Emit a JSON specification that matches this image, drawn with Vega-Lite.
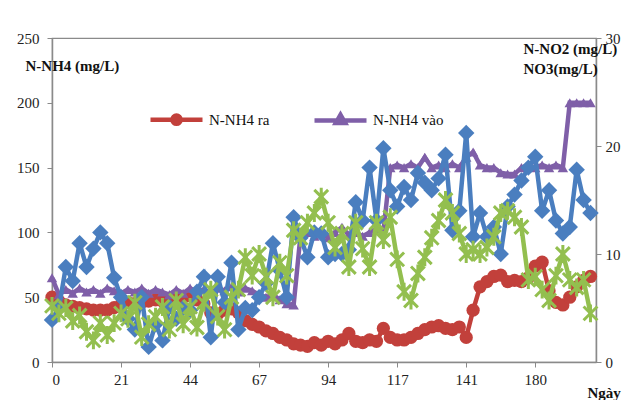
{
  "$schema": "https://vega.github.io/schema/vega-lite/v6.json",
  "autosize": "none",
  "width": 544,
  "height": 324,
  "padding": {"left": 52, "top": 38, "right": 29, "bottom": 38},
  "background": "white",
  "config": {
    "view": {"stroke": "#8a8a8a", "strokeWidth": 1.2},
    "axis": {
      "labelFont": "Liberation Serif", "labelFontSize": 15, "labelColor": "#222",
      "titleFont": "Liberation Serif", "titleFontSize": 15, "titleFontWeight": "bold", "titleColor": "#111",
      "domainColor": "#8a8a8a", "domainWidth": 1.5, "tickColor": "#8a8a8a", "tickSize": 5, "grid": false
    }
  },
  "data": {"values": [
    {"i":0,"ra":50,"vao":65,"no2":3.9,"no3":5.2},
    {"i":1,"ra":47,"vao":52,"no2":5.0,"no3":4.5},
    {"i":2,"ra":44,"vao":56,"no2":8.8,"no3":5.0},
    {"i":3,"ra":43,"vao":53,"no2":7.5,"no3":3.8},
    {"i":4,"ra":42,"vao":57,"no2":11.0,"no3":4.3},
    {"i":5,"ra":41,"vao":54,"no2":8.8,"no3":2.8},
    {"i":6,"ra":40,"vao":56,"no2":10.5,"no3":2.0},
    {"i":7,"ra":40,"vao":53,"no2":12.0,"no3":3.6},
    {"i":8,"ra":40,"vao":57,"no2":11.0,"no3":2.5},
    {"i":9,"ra":42,"vao":55,"no2":7.8,"no3":3.6},
    {"i":10,"ra":44,"vao":53,"no2":6.0,"no3":4.5},
    {"i":11,"ra":46,"vao":56,"no2":4.0,"no3":4.0},
    {"i":12,"ra":45,"vao":54,"no2":3.0,"no3":5.5},
    {"i":13,"ra":46,"vao":57,"no2":6.0,"no3":2.3},
    {"i":14,"ra":47,"vao":53,"no2":1.4,"no3":3.5},
    {"i":15,"ra":48,"vao":56,"no2":3.5,"no3":4.2},
    {"i":16,"ra":47,"vao":54,"no2":2.0,"no3":5.1},
    {"i":17,"ra":48,"vao":52,"no2":5.1,"no3":3.0},
    {"i":18,"ra":49,"vao":56,"no2":4.0,"no3":5.7},
    {"i":19,"ra":50,"vao":53,"no2":5.0,"no3":3.5},
    {"i":20,"ra":51,"vao":57,"no2":4.8,"no3":5.1},
    {"i":21,"ra":48,"vao":54,"no2":6.5,"no3":3.2},
    {"i":22,"ra":45,"vao":56,"no2":7.9,"no3":5.5},
    {"i":23,"ra":38,"vao":53,"no2":2.3,"no3":6.7},
    {"i":24,"ra":37,"vao":57,"no2":7.9,"no3":4.2},
    {"i":25,"ra":40,"vao":55,"no2":5.5,"no3":3.0},
    {"i":26,"ra":41,"vao":58,"no2":9.2,"no3":6.0},
    {"i":27,"ra":38,"vao":54,"no2":3.0,"no3":6.7},
    {"i":28,"ra":32,"vao":57,"no2":5.0,"no3":9.7},
    {"i":29,"ra":29,"vao":55,"no2":4.8,"no3":8.0},
    {"i":30,"ra":27,"vao":52,"no2":6.0,"no3":10.0},
    {"i":31,"ra":24,"vao":50,"no2":7.3,"no3":7.9},
    {"i":32,"ra":22,"vao":52,"no2":11.0,"no3":6.0},
    {"i":33,"ra":19,"vao":48,"no2":8.5,"no3":9.2},
    {"i":34,"ra":17,"vao":45,"no2":6.0,"no3":8.0},
    {"i":35,"ra":14,"vao":44,"no2":13.4,"no3":12.2},
    {"i":36,"ra":13,"vao":98,"no2":11.5,"no3":11.5},
    {"i":37,"ra":12,"vao":100,"no2":9.7,"no3":12.9},
    {"i":38,"ra":15,"vao":97,"no2":12.0,"no3":13.8},
    {"i":39,"ra":13,"vao":100,"no2":11.9,"no3":15.3},
    {"i":40,"ra":16,"vao":96,"no2":9.7,"no3":12.9},
    {"i":41,"ra":14,"vao":100,"no2":10.0,"no3":10.6},
    {"i":42,"ra":17,"vao":104,"no2":10.0,"no3":11.9},
    {"i":43,"ra":22,"vao":98,"no2":10.4,"no3":8.8},
    {"i":44,"ra":16,"vao":100,"no2":14.8,"no3":12.9},
    {"i":45,"ra":15,"vao":97,"no2":13.1,"no3":10.5},
    {"i":46,"ra":17,"vao":100,"no2":18.0,"no3":8.8},
    {"i":47,"ra":16,"vao":103,"no2":13.1,"no3":12.9},
    {"i":48,"ra":26,"vao":100,"no2":19.8,"no3":11.3},
    {"i":49,"ra":19,"vao":150,"no2":15.9,"no3":13.4},
    {"i":50,"ra":17,"vao":152,"no2":14.4,"no3":9.5},
    {"i":51,"ra":17,"vao":150,"no2":16.2,"no3":6.5},
    {"i":52,"ra":19,"vao":153,"no2":15.0,"no3":5.7},
    {"i":53,"ra":22,"vao":150,"no2":17.5,"no3":8.2},
    {"i":54,"ra":25,"vao":158,"no2":16.6,"no3":9.7},
    {"i":55,"ra":27,"vao":150,"no2":15.9,"no3":11.5},
    {"i":56,"ra":28,"vao":152,"no2":17.0,"no3":13.1},
    {"i":57,"ra":26,"vao":150,"no2":19.2,"no3":15.0},
    {"i":58,"ra":25,"vao":153,"no2":12.2,"no3":13.8},
    {"i":59,"ra":27,"vao":150,"no2":14.0,"no3":11.9},
    {"i":60,"ra":19,"vao":158,"no2":21.2,"no3":10.0},
    {"i":61,"ra":40,"vao":162,"no2":11.6,"no3":10.4},
    {"i":62,"ra":58,"vao":152,"no2":13.8,"no3":10.0},
    {"i":63,"ra":62,"vao":150,"no2":11.6,"no3":10.6},
    {"i":64,"ra":66,"vao":150,"no2":12.5,"no3":11.6},
    {"i":65,"ra":67,"vao":146,"no2":10.0,"no3":13.8},
    {"i":66,"ra":62,"vao":145,"no2":14.4,"no3":14.0},
    {"i":67,"ra":63,"vao":145,"no2":15.5,"no3":13.4},
    {"i":68,"ra":62,"vao":150,"no2":16.8,"no3":12.5},
    {"i":69,"ra":65,"vao":152,"no2":18.0,"no3":7.6},
    {"i":70,"ra":74,"vao":150,"no2":19.0,"no3":7.9},
    {"i":71,"ra":77,"vao":152,"no2":14.0,"no3":6.7},
    {"i":72,"ra":55,"vao":150,"no2":15.9,"no3":5.7},
    {"i":73,"ra":46,"vao":152,"no2":13.1,"no3":8.0},
    {"i":74,"ra":44,"vao":150,"no2":11.9,"no3":10.0},
    {"i":75,"ra":50,"vao":200,"no2":12.5,"no3":7.6},
    {"i":76,"ra":58,"vao":200,"no2":17.8,"no3":6.9},
    {"i":77,"ra":63,"vao":200,"no2":15.0,"no3":7.6},
    {"i":78,"ra":66,"vao":200,"no2":13.8,"no3":4.5}
  ]},
  "encoding": {
    "x": {"field": "i", "type": "quantitative",
      "scale": {"domain": [0, 78.8], "nice": false, "zero": false},
      "axis": {"values": [0,10,20,30,40,50,60,70], "labelExpr": "['0','21','44','67','94','117','141','180'][round(datum.value/10)]",
        "title": "Ngày", "titleAlign": "left", "titleAnchor": "start", "titleX": 535, "titleY": 35, "titleBaseline": "alphabetic", "labelPadding": 5}}
  },
  "layer": [
    {
      "encoding": {
        "y": {"type": "quantitative", "scale": {"domain": [0, 250], "nice": false},
          "axis": {"orient": "left", "values": [0,50,100,150,200,250], "title": "N-NH4 (mg/L)", "titleAngle": 0, "titleAlign": "left", "titleBaseline": "alphabetic", "titleX": -27, "titleY": 32, "labelPadding": 8}}
      },
      "layer": [
        {"mark": {"type": "line", "color": "#c2403b", "strokeWidth": 4.5}, "encoding": {"y": {"field": "ra"}}},
        {"mark": {"type": "point", "shape": "circle", "filled": true, "opacity": 1, "color": "#c2403b", "size": 175}, "encoding": {"y": {"field": "ra"}}},
        {"mark": {"type": "line", "color": "#7f5fa8", "strokeWidth": 4.5}, "encoding": {"y": {"field": "vao"}}},
        {"mark": {"type": "point", "shape": "triangle-up", "filled": true, "opacity": 1, "color": "#7f5fa8", "size": 110}, "encoding": {"y": {"field": "vao"}}},
        {
          "transform": [{"fold": ["ra", "vao"], "as": ["key", "val"]}],
          "mark": {"type": "point", "filled": true, "opacity": 0, "size": 2704},
          "encoding": {
            "y": {"field": "val"},
            "color": {"field": "key", "type": "nominal", "scale": {"domain": ["ra", "vao"], "range": ["#c2403b", "#7f5fa8"]},
              "legend": {"orient": "none", "legendX": 96, "legendY": 53, "direction": "horizontal", "title": null,
                "labelExpr": "datum.value == 'ra' ? 'N-NH4 ra' : 'N-NH4 vào'", "labelFont": "Liberation Serif", "labelFontSize": 15, "labelColor": "#111",
                "symbolSize": 2704, "columnPadding": 35, "labelOffset": 4,
                "encode": {"symbols": {"update": {"opacity": {"value": 1}, "strokeWidth": {"value": 4.5}, "stroke": {"scale": "color", "field": "value"}, "fill": {"scale": "color", "field": "value"}}}}}},
            "shape": {"field": "key", "type": "nominal", "scale": {"domain": ["ra", "vao"], "range": [
              "M-1,0L1,0M0.16,0A0.16,0.16,0,1,1,-0.16,0A0.16,0.16,0,1,1,0.16,0Z",
              "M-1,0L1,0M0,-0.22L0.18,0.1L-0.18,0.1Z"]},
              "legend": {"orient": "none", "legendX": 96, "legendY": 53, "direction": "horizontal", "title": null,
                "labelExpr": "datum.value == 'ra' ? 'N-NH4 ra' : 'N-NH4 vào'", "labelFont": "Liberation Serif", "labelFontSize": 15, "labelColor": "#111",
                "symbolSize": 2704, "columnPadding": 35, "labelOffset": 4,
                "encode": {"symbols": {"update": {"opacity": {"value": 1}, "strokeWidth": {"value": 4.5}, "stroke": {"scale": "color", "field": "value"}, "fill": {"scale": "color", "field": "value"}}}}}}
          }
        }
      ]
    },
    {
      "encoding": {
        "y": {"type": "quantitative", "scale": {"domain": [0, 30], "nice": false},
          "axis": {"orient": "right", "values": [0,10,20,30], "title": ["N-NO2 (mg/L)", "NO3(mg/L)"], "titleAngle": 0, "titleAlign": "left", "titleBaseline": "top", "titleX": -73, "titleY": 3, "titleLineHeight": 20, "labelPadding": 4}}
      },
      "layer": [
        {"mark": {"type": "line", "color": "#4a7ebf", "strokeWidth": 4.5}, "encoding": {"y": {"field": "no2"}}},
        {"mark": {"type": "point", "shape": "diamond", "filled": true, "opacity": 1, "color": "#4a7ebf", "size": 270}, "encoding": {"y": {"field": "no2"}}},
        {"mark": {"type": "line", "color": "#93bf4f", "strokeWidth": 4.5}, "encoding": {"y": {"field": "no3"}}},
        {"mark": {"type": "point", "shape": "M-1,-1L1,1M-1,1L1,-1M0,-1.3L0,1.3", "filled": false, "opacity": 1, "color": "#93bf4f", "strokeWidth": 3, "size": 190}, "encoding": {"y": {"field": "no3"}}}
      ]
    }
  ],
  "resolve": {"scale": {"y": "independent"}}
}
